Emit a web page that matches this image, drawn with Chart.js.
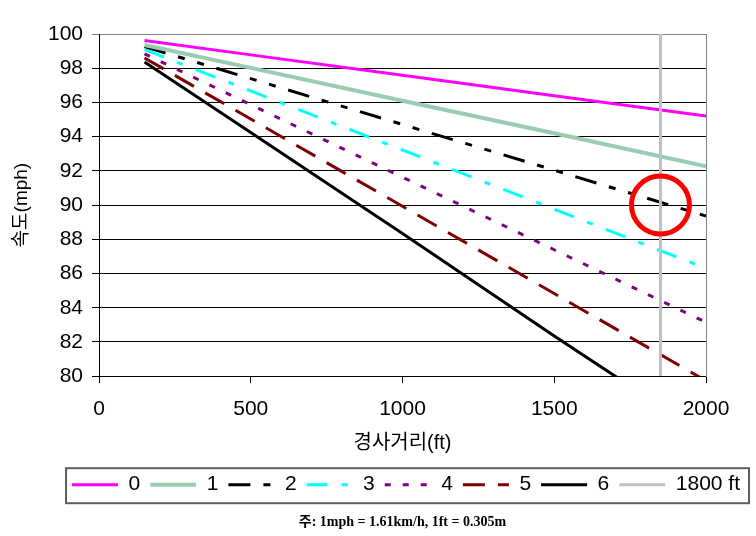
<!DOCTYPE html>
<html>
<head>
<meta charset="utf-8">
<script src="https://cdn.jsdelivr.net/npm/chart.js@4"></script>
<style>
  body { margin: 0; background: #fff; }
  #wrap { width: 756px; height: 536px; }
</style>
</head>
<body>
<div id="wrap"><canvas id="myChart"></canvas></div>
<script>
// distance along the grade (ft) and speed (mph) for each grade %
var dist_ls = [150, 500, 1000, 1500, 2000];
var speed_0 = [99.62, 98.78, 97.59, 96.39, 95.2];
var speed_1 = [99.36, 98.02, 96.1, 94.2, 92.27];
var speed_2 = [99.26, 97.39, 94.71, 92.04, 89.36];
var speed_3 = [99.09, 96.67, 93.22, 89.76, 86.3];
var speed_4 = [98.84, 95.87, 91.63, 87.39, 83.15];
var speed_5 = [98.6, 95.03, 89.93, 84.83, 79.73];
var speed_6 = [98.37, 94.24, 88.34, 82.35, 76.5];
var series_labels = ['0', '1', '2', '3', '4', '5', '6'];

// vertical marker line and the circled point
var marker_x = [1850, 1850];
var marker_y = [80, 100];
var circle_pt = { x: 1850, y: 90 };

var corlor_ls = ['#ff00ff', '#99ccb0', '#000000', '#00ffff', '#800080', '#800000', '#000000'];
var dash_ls = [[], [], [22, 13, 7, 13, 7, 13], [21, 14, 6, 14], [6, 12], [22, 13], []];
var width_ls = [3, 4, 3, 3, 3, 3, 3];

var all_speed = [speed_0, speed_1, speed_2, speed_3, speed_4, speed_5, speed_6];

function toPoints(xs, ys) {
    return xs.map(function (x, i) { return { x: x, y: ys[i] }; });
}

var cutomdtaset = [];
for (let i = 0; i < all_speed.length; i++) {
    cutomdtaset.push({
        label: series_labels[i],
        data: toPoints(dist_ls, all_speed[i]),
        borderColor: corlor_ls[i],
        backgroundColor: corlor_ls[i],
        borderWidth: width_ls[i],
        borderDash: dash_ls[i],
        pointRadius: 0,
        tension: 0,
        order: 2
    });
}
cutomdtaset.push({
    label: '1800 ft',
    data: toPoints(marker_x, marker_y),
    borderColor: '#c0c0c0',
    backgroundColor: '#c0c0c0',
    borderWidth: 3,
    borderDash: [],
    pointRadius: 0,
    order: 1
});
cutomdtaset.push({
    label: 'circle',
    data: [circle_pt],
    showLine: false,
    pointRadius: 29,
    pointHoverRadius: 29,
    pointBorderWidth: 5,
    pointBorderColor: '#ff0000',
    pointBackgroundColor: 'rgba(0,0,0,0)',
    clip: false,
    order: 0
});

// box round the legend, like the original
var legendBox = {
    id: 'legendBox',
    afterDraw: function (chart) {
        var boxes = chart.legend.legendHitBoxes;
        if (!boxes || !boxes.length) return;
        var first = boxes[0], last = boxes[boxes.length - 1];
        var ctx = chart.ctx;
        ctx.save();
        ctx.strokeStyle = '#5f5f5f';
        ctx.lineWidth = 2;
        ctx.strokeRect(first.left - 6, first.top - 6, last.left + last.width + 9 - (first.left - 6), first.height + 14);
        ctx.restore();
    }
};

var sans = "'Liberation Sans', Arial, 'Noto Sans CJK KR', sans-serif";

function plainTick(value) {
    return String(value);
}

var canvas = document.getElementById('myChart');
var myChart = new Chart(canvas, {
    type: 'line',
    data: { datasets: cutomdtaset },
    options: {
        responsive: true,
        maintainAspectRatio: false,
        animation: false,
        events: [],
        layout: { padding: { top: 33, right: 6, left: 0, bottom: 0 } },
        scales: {
            x: {
                type: 'linear',
                min: 0,
                max: 2000,
                ticks: { stepSize: 500, color: '#000', font: { family: sans, size: 21 }, padding: 13, maxRotation: 0, callback: plainTick },
                grid: { drawOnChartArea: false, drawTicks: true, tickLength: 7, color: '#000' },
                border: { color: '#000', width: 1 },
                title: { display: true, text: '경사거리(ft)', color: '#000', font: { family: sans, size: 20 }, padding: { top: 4, bottom: 9 } },
                afterFit: function (scale) { scale.height = 88; }
            },
            y: {
                min: 80,
                max: 100,
                ticks: { stepSize: 2, color: '#000', font: { family: sans, size: 21 }, padding: 9, callback: plainTick },
                grid: {
                    color: function (ctx) { return ctx.tick && ctx.tick.value === 100 ? '#808080' : '#000'; },
                    tickLength: 7
                },
                border: { color: '#000', width: 1 },
                title: { display: true, text: '속도(mph)', color: '#000', font: { family: sans, size: 19 }, padding: { top: 10, bottom: 0 } },
                afterFit: function (scale) { scale.width = 99; }
            },
            y2: {
                position: 'right',
                min: 80,
                max: 100,
                ticks: { display: false },
                grid: { drawOnChartArea: false, drawTicks: false },
                border: { color: '#808080', width: 1 },
                afterFit: function (scale) { scale.width = 44; }
            }
        },
        plugins: {
            legend: {
                position: 'bottom',
                align: 'end',
                labels: {
                    usePointStyle: true,
                    pointStyle: 'line',
                    pointStyleWidth: 46,
                    padding: 10,
                    color: '#000',
                    font: { family: sans, size: 21 },
                    generateLabels: function (chart) {
                        var items = Chart.defaults.plugins.legend.labels.generateLabels(chart);
                        items.forEach(function (it) {
                            var ds = chart.data.datasets[it.datasetIndex];
                            it.lineDash = ds.borderDash || [];
                            it.lineWidth = ds.borderWidth;
                            it.strokeStyle = ds.borderColor;
                        });
                        return items;
                    },
                    filter: function (item) { return item.text !== 'circle'; },
                    sort: function (a, b) { return a.datasetIndex - b.datasetIndex; }
                }
            },
            subtitle: {
                display: true,
                fullSize: false,
                position: 'bottom',
                text: '주: 1mph = 1.61km/h, 1ft = 0.305m',
                color: '#000',
                font: { family: "'Liberation Serif', 'Times New Roman', 'Noto Sans CJK KR', serif", size: 14, weight: 'bold' },
                padding: { top: 9, bottom: 5 }
            },
            tooltip: { enabled: false }
        }
    },
    plugins: [legendBox]
});
</script>
</body>
</html>
